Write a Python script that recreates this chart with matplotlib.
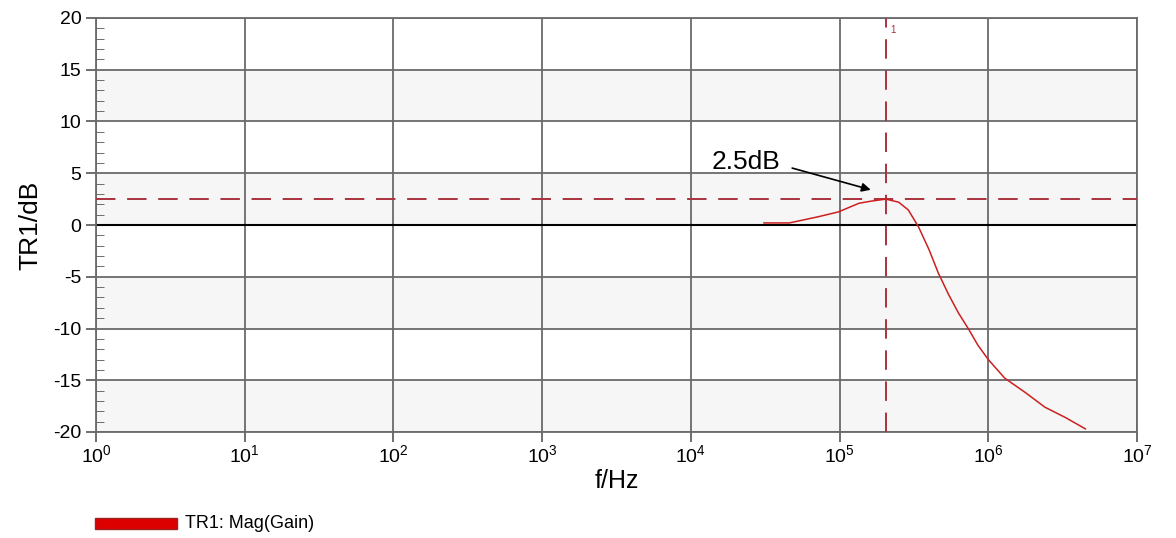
import matplotlib.pyplot as plt
import numpy as np

plt.rcParams['font.family'] = ['Liberation Sans', 'DejaVu Sans']

# gain curve
freq = [3.1e4, 4.6e4, 7.2e4, 9.8e4, 1.35e5, 1.62e5, 2.05e5, 2.5e5, 2.9e5,
        3.4e5, 4.0e5, 4.6e5, 5.4e5, 6.3e5, 7.4e5, 8.5e5, 1.0e6, 1.29e6,
        1.78e6, 2.4e6, 3.3e6, 4.5e6]
gain = [0.2, 0.2, 0.8, 1.26, 2.1, 2.3, 2.5, 2.2, 1.45,
        -0.2, -2.4, -4.6, -6.7, -8.5, -10.1, -11.6, -13.0, -14.8,
        -16.2, -17.6, -18.6, -19.7]
peak_freq = 2.05e5
peak_gain = 2.5
yticks = [-20, -15, -10, -5, 0, 5, 10, 15, 20]
decades = list(range(0, 8))

fig = plt.figure(figsize=(11.76, 5.38), dpi=100)
ax = fig.add_axes([96 / 1176, 1 - 432 / 538, (1137 - 96) / 1176, (432 - 18) / 538])

# alternating bands
for k, lo in enumerate(yticks[:-1]):
    if k % 2 == 0:
        ax.axhspan(lo, lo + 5, color='#f6f6f6', zorder=0, lw=0)

ax.set_xscale('log')
ax.set_xlim(1, 1e7)
ax.set_ylim(-20, 20)
ax.set_xticks([10.0 ** d for d in decades])
ax.set_xticklabels([r'$\mathregular{10^{%d}}$' % d for d in decades], fontsize=14)
ax.xaxis.set_minor_locator(plt.NullLocator())
ax.set_yticks(yticks)
ax.set_yticklabels([str(v) for v in yticks], fontsize=14)
ax.set_yticks(np.arange(-20, 21, 1), minor=True)
ax.tick_params(axis='y', which='minor', direction='in', length=6, color='#555555')
ax.tick_params(axis='both', which='major', direction='out', length=7, color='#555555', width=1.2)
ax.tick_params(axis='x', pad=2)
ax.grid(True, which='major', color='#6a6a6a', lw=1.3)
ax.set_axisbelow(True)
for s in ax.spines.values():
    s.set_color('#6a6a6a')
    s.set_linewidth(1.3)

ax.axhline(0, color='black', lw=1.5, zorder=2)
ax.axhline(peak_gain, color='#a8323c', lw=1.4, ls=(0, (10, 6)), zorder=3)
ax.axvline(peak_freq, color='#a8323c', lw=1.4, ls=(0, (10, 6)), zorder=3)
ax.text(peak_freq * 1.07, 19.3, '1', fontsize=7, va='top', color='#a8323c')

ax.plot(freq, gain, color='#cc2020', lw=1.1, zorder=4)

ax.text(2.35e4, 6.1, '2.5dB', fontsize=19, ha='center', va='center')
ax.annotate('', xy=(1.62e5, 3.4), xytext=(4.8e4, 5.5),
            arrowprops=dict(arrowstyle='-|>', color='black', lw=1.2,
                            shrinkA=0, shrinkB=0, mutation_scale=13))

ax.set_ylabel('TR1/dB', fontsize=19, labelpad=8)
ax.set_xlabel('f/Hz', fontsize=18, labelpad=2)

fig.patches.append(plt.Rectangle((95 / 1176, 1 - 529 / 538), 82 / 1176, 11 / 538,
                                 transform=fig.transFigure, color='#dd0000', ec='#a02020'))
fig.text(185 / 1176, 1 - 523 / 538, 'TR1: Mag(Gain)', fontsize=13, va='center')

fig.savefig('out.png', dpi=100)
